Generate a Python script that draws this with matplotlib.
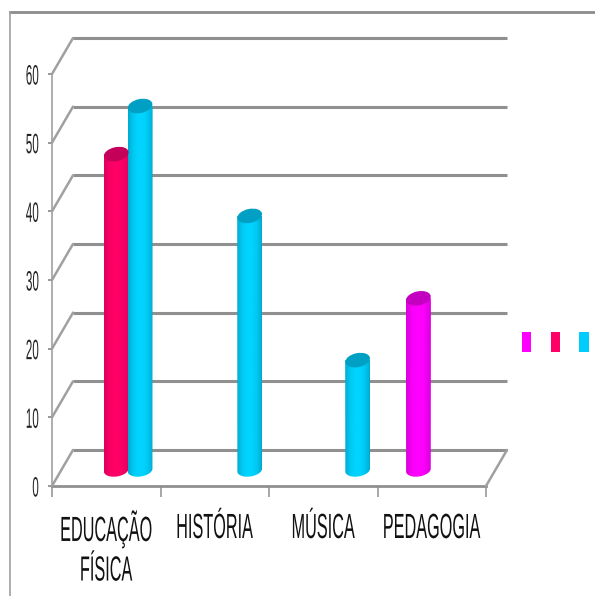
import numpy as np
import matplotlib
matplotlib.use('Agg')
import matplotlib.pyplot as plt
import matplotlib.patheffects as pe
from matplotlib.patches import ConnectionPatch, Ellipse, PathPatch
from matplotlib.path import Path
from matplotlib.transforms import Affine2D
from matplotlib.colors import LinearSegmentedColormap
from matplotlib.lines import Line2D

categories = ['EDUCAÇÃO\nFÍSICA', 'HISTÓRIA', 'MÚSICA', 'PEDAGOGIA']
y_ticks = [0, 10, 20, 30, 40, 50, 60]

# category index, value, offset of the bar inside the category, colour name
bar_cat = [0, 0, 1, 2, 3]
bar_val = [46, 53, 37, 16, 25]
bar_off = [0.385, 0.605, 0.615, 0.61, 0.17]
bar_col = ['red', 'cyan', 'cyan', 'cyan', 'mag']

legend_colors = ['#ff00ff', '#ff0066', '#00ccff']

# edge, centre, cap
shades = {
    'red': ('#c8005a', '#ff0066', '#c4005a'),
    'cyan': ('#0090b0', '#00d4ff', '#00a0c4'),
    'mag': ('#c000c0', '#ff00ff', '#c400c0'),
}

W, H = 595, 596
plt.rcParams['font.family'] = ['Liberation Sans', 'DejaVu Sans']
fig = plt.figure(figsize=(W / 100, H / 100), dpi=100)


class TallText(pe.AbstractPathEffect):
    # the reference text is squeezed, stretch the glyphs up from the baseline
    def __init__(self, sy, dy=0):
        super().__init__()
        self.sy = sy
        self.dy = dy

    def draw_path(self, renderer, gc, tpath, affine, rgbFace=None):
        ox, oy = affine.transform((0, 0))
        stretch = Affine2D().translate(-ox, -oy).scale(1, self.sy).translate(ox, oy + self.dy)
        renderer.draw_path(gc, tpath, affine + stretch, rgbFace)


def make_axes(dx, dy):
    # plot box 52..486 px wide, value 0 at y=486 and 60 at y=74
    a = fig.add_axes([(52 + dx) / W, (H - 486 + dy) / H, 434 / W, 412 / H])
    a.set_xlim(0, 4)
    a.set_ylim(0, 60)
    a.patch.set_alpha(0)
    return a


back = make_axes(21, 36)
back.axis('off')
for v in y_ticks:
    back.plot([0, 4], [v, v], color='#909090', lw=2.2, clip_on=False, solid_capstyle='butt')

mid = make_axes(10, 16)
mid.axis('off')

ax = make_axes(0, 0)
for s in ['top', 'right']:
    ax.spines[s].set_visible(False)
ax.spines['left'].set_color('#a8a8a8')
ax.spines['left'].set_linewidth(1.3)
ax.spines['bottom'].set_color('#909090')
ax.spines['bottom'].set_linewidth(2)
ax.set_yticks(y_ticks)
ax.set_xticks(range(5))
ax.set_xticklabels([])
ax.tick_params(axis='y', length=3, width=1.3, color='#909090', labelsize=8.4, pad=6.5, labelcolor='#222222')
ax.tick_params(axis='x', length=8, width=1.3, color='#a0a0a0')
for lab in ax.get_yticklabels():
    lab.set_path_effects([TallText(2.4, -6)])
for i, c in enumerate(categories):
    ax.annotate(c, (i + 0.5, 0), xytext=(0, -40), textcoords='offset pixels', ha='center', va='top',
                fontsize=11.7, color='#111111', linespacing=3.05, annotation_clip=False,
                path_effects=[TallText(2.15)])

# floor side lines + wall side lines
for v in y_ticks:
    fig.add_artist(ConnectionPatch((0, v), (0, v), ax.transData, back.transData, color='#a0a0a0', lw=1.8))
fig.add_artist(ConnectionPatch((4, 0), (4, 0), ax.transData, back.transData, color='#a0a0a0', lw=1.8))


def draw_bar(a, x0, v, name):
    edge, centre, cap = shades[name]
    cmap = LinearSegmentedColormap.from_list(name, [edge, centre], N=64)
    wdata = 0.23
    grad = np.array([np.cos(np.linspace(-1.45, 1.45, 64)) ** 0.5])
    im = a.imshow(grad, extent=[x0, x0 + wdata, -2, v], aspect='auto', cmap=cmap, vmin=0, vmax=1, zorder=3)
    a.set_xlim(0, 4)
    a.set_ylim(0, 60)
    # body outline with round foot, worked out in pixels
    p0 = a.transData.transform((x0, 0))
    p1 = a.transData.transform((x0 + wdata, v))
    wpx = p1[0] - p0[0]
    t = np.linspace(np.pi, 2 * np.pi, 30)
    rot = np.deg2rad(9)
    ex, ey = wpx / 2 * np.cos(t), 6.5 * np.sin(t)
    fx = p0[0] + wpx / 2 + ex * np.cos(rot) - ey * np.sin(rot)
    fy = p0[1] + ex * np.sin(rot) + ey * np.cos(rot)
    xs = np.r_[p0[0], fx, p1[0], p0[0]]
    ys = np.r_[p1[1], fy, p1[1], p1[1]]
    clip = PathPatch(Path(np.c_[xs, ys]), transform=Affine2D())
    im.set_clip_box(fig.bbox)
    im.set_clip_path(clip)
    top = Ellipse((0, 0), wpx, 14, angle=12, facecolor=cap, edgecolor='none', zorder=4,
                  transform=Affine2D().translate(p0[0] + wpx / 2, p1[1]))
    a.add_artist(top)


for c, v, o, n in zip(bar_cat, bar_val, bar_off, bar_col):
    draw_bar(mid, c + o, v, n)

# legend keys without labels
ax_leg = fig.add_axes([515 / W, (H - 355) / H, 80 / W, 26 / H])
ax_leg.axis('off')
ax_leg.set_xlim(515, 595)
ax_leg.set_ylim(0, 1)
ax_leg.bar([526.5, 555.5, 584], [0.8, 0.8, 0.8], width=9.5, bottom=0.1, color=legend_colors)

# outer frame of the picture
fig.add_artist(Line2D([10 / W, 1], [1 - 12 / H, 1 - 12 / H], color='#8c8c8c', lw=2))
fig.add_artist(Line2D([10 / W, 10 / W], [0, 1 - 12 / H], color='#a0a0a0', lw=1.2))

fig.savefig('out.png', dpi=100)
